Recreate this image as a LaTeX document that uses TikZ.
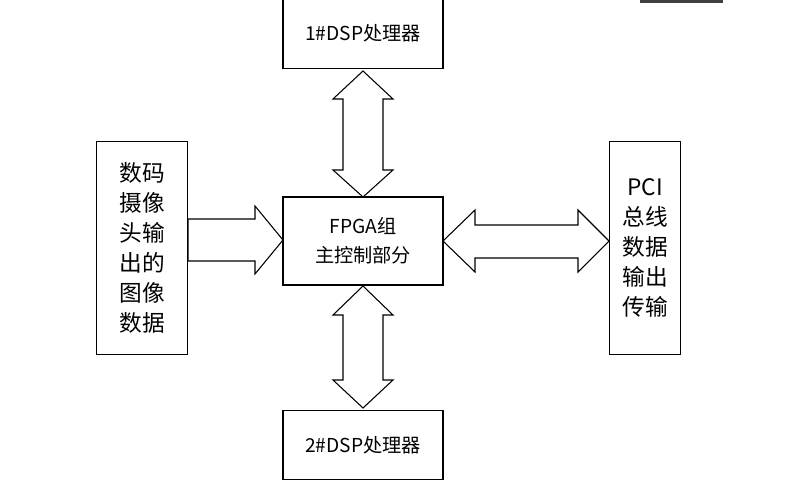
\documentclass[tikz,border=0pt]{standalone}
\usepackage{fontspec}
\setmainfont{Liberation Serif}
\newfontfamily\cjk{Noto Sans CJK SC}
\tikzset{
  box/.style={draw,thick,fill=white,inner sep=0pt,font=\cjk\Large,align=center},
  tall/.style={box,font=\cjk\fontsize{17}{22.5}\selectfont}
}
\tikzset{fat/.style={draw,thick,fill=white,line join=miter}}
\begin{document}
\begin{tikzpicture}[x=0.75pt,y=-0.75pt]
	\useasboundingbox (0,0) rectangle (794,500);
	\fill[black!75] (640,-2) rectangle (723,3);
	\node[box,minimum width=120pt,minimum height=53pt] (dsp1) at (363,33) {1\#DSP处理器};
	\node[box,minimum width=120pt,minimum height=66pt] (fpga) at (363,241) {FPGA组\\[4pt]主控制部分};
	\node[box,minimum width=120pt,minimum height=52pt] (dsp2) at (363,445) {2\#DSP处理器};
	\node[tall,minimum width=68pt,minimum height=160pt] (cam) at (142,248) {数码\\摄像\\头输\\出的\\图像\\数据};
	\node[tall,minimum width=53pt,minimum height=160pt] (pci) at (645,248) {PCI\\总线\\数据\\输出\\传输};
	% fat arrows
	\draw[fat] (363,71) -- (393,99) -- (383,99) -- (383,170) -- (393,170) -- (363,197)
		-- (333,170) -- (343,170) -- (343,99) -- (333,99) -- cycle;
	\draw[fat] (363,286) -- (393,315) -- (383,315) -- (383,380) -- (393,380) -- (363,408)
		-- (333,380) -- (343,380) -- (343,315) -- (333,315) -- cycle;
	\draw[fat] (188,219) -- (255,219) -- (255,206) -- (283,240) -- (255,274) -- (255,261)
		-- (188,261) -- cycle;
	\draw[fat] (443,241) -- (475,210) -- (475,225) -- (578,225) -- (578,210) -- (609,241)
		-- (578,272) -- (578,258) -- (475,258) -- (475,272) -- cycle;
\end{tikzpicture}
\end{document}
